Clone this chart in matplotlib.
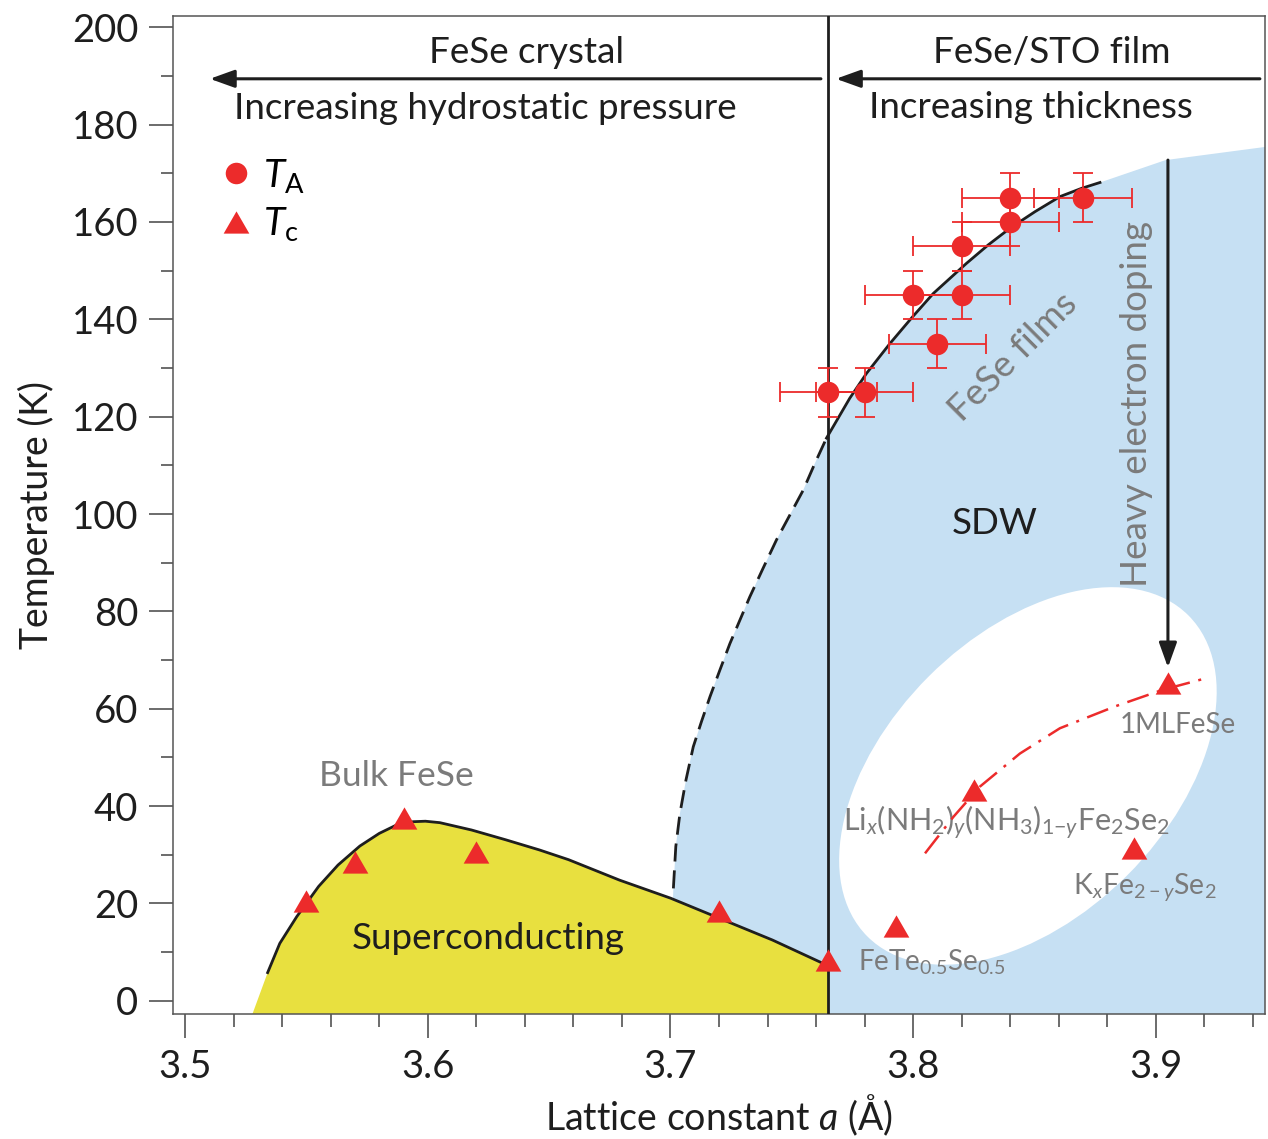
import numpy as np
import matplotlib
matplotlib.use("Agg")
import matplotlib.pyplot as plt
import matplotlib.patches as mpatches
from matplotlib.lines import Line2D
from matplotlib.transforms import ScaledTranslation

plt.rcParams['font.family'] = ['Lato', 'DejaVu Sans']
plt.rcParams['mathtext.fontset'] = 'custom'
plt.rcParams['mathtext.rm'] = 'Lato'
plt.rcParams['mathtext.it'] = 'Lato:italic'
plt.rcParams['mathtext.bf'] = 'Lato:bold'

RED = '#ec2b2b'
BLUE = '#c6e0f3'
YELLOW = '#e8e03f'
GRAY = '#7b7b7b'
BLACK = '#1e1e1e'

# T_A (FeSe/STO films) z niepewnościami
ta_x = [3.765, 3.78, 3.81, 3.80, 3.82, 3.82, 3.84, 3.84, 3.87]
ta_y = [125, 125, 135, 145, 145, 155, 160, 165, 165]
ta_xerr = 0.02
ta_yerr = 5

# T_c
tc_x = [3.55, 3.57, 3.59, 3.62, 3.72, 3.765, 3.793, 3.825, 3.891, 3.905]
tc_y = [20.5, 28.5, 37.5, 30.5, 18.5, 8.4, 15.4, 43.3, 31.3, 65.2]

# kopuła nadprzewodnictwa
dome_x = [3.534, 3.539, 3.546, 3.555, 3.563, 3.572, 3.580, 3.587, 3.594, 3.599, 3.605,
          3.618, 3.632, 3.646, 3.658, 3.679, 3.700, 3.720, 3.742, 3.765]
dome_y = [5.8, 11.8, 17.3, 23.5, 27.9, 31.8, 34.4, 36.1, 36.8, 36.9, 36.6,
          35.1, 33.1, 31.0, 29.0, 24.8, 21.1, 17.0, 12.5, 7.2]
dome_foot_x = 3.527

# granica obszaru SDW: część przerywana (do a = 3.765) i ciągła
sdw_dash_x = [3.7012, 3.7022, 3.7039, 3.7064, 3.7094, 3.7128, 3.7163, 3.7204, 3.7245,
              3.7286, 3.7327, 3.7382, 3.7437, 3.7492, 3.7547, 3.7595, 3.7643]
sdw_dash_y = [23.1, 31.7, 38.5, 45.4, 52.2, 57.4, 62.5, 68.0, 73.4,
              78.2, 83.0, 88.9, 94.7, 99.8, 104.9, 110.4, 115.6]
sdw_solid_x = [3.7643, 3.7739, 3.7808, 3.7904, 3.7994, 3.8083, 3.8220, 3.8310,
               3.8399, 3.8502, 3.8605, 3.8694, 3.877]
sdw_solid_y = [115.6, 123.8, 128.9, 135.0, 140.3, 145.3, 151.5, 155.3,
               158.7, 162.1, 165.2, 166.9, 168.1]
sdw_top_x = [3.904, 3.945]
sdw_top_y = [172.7, 175.4]
sdw_foot_x = 3.699

# krzywa przez punkty Li_x(NH2)... i 1ML FeSe
ml_x = [3.8049, 3.8166, 3.8275, 3.844, 3.8605, 3.8833, 3.9029, 3.9209]
ml_y = [30.3, 37.8, 44.0, 50.8, 56.0, 60.5, 63.9, 66.3]

a_split = 3.765
xmin, xmax = 3.495, 3.945
ymin, ymax = -2.7, 202.3

fig = plt.figure(figsize=(12.68, 11.39), dpi=100)
ax = fig.add_axes([173 / 1268, 125 / 1139, 1092 / 1268, 998 / 1139])
ax.set_xlim(xmin, xmax)
ax.set_ylim(ymin, ymax)

# obszar SDW
ax.fill([sdw_foot_x] + sdw_dash_x + sdw_solid_x[1:] + sdw_top_x + [xmax + 0.01],
        [ymin - 1] + sdw_dash_y + sdw_solid_y[1:] + sdw_top_y + [ymin - 1],
        color=BLUE, lw=0, zorder=1)

# biała elipsa (wymiary w calach, środek w danych)
ell = mpatches.Ellipse((0, 0), 4.54, 2.81, angle=45,
                       transform=fig.dpi_scale_trans + ScaledTranslation(3.8473, 46.2, ax.transData),
                       fc='white', ec='none', zorder=1.5)
ax.add_patch(ell)

# nadprzewodnictwo
ax.fill([dome_foot_x] + dome_x + [a_split], [ymin - 1] + dome_y + [ymin - 1],
        color=YELLOW, lw=0, zorder=2)
ax.plot(dome_x, dome_y, color=BLACK, lw=2, zorder=4, solid_joinstyle='round')

ax.plot(sdw_dash_x, sdw_dash_y, color=BLACK, lw=2, ls=(0, (6.5, 3.2)), zorder=4)
ax.plot(sdw_solid_x, sdw_solid_y, color=BLACK, lw=2, zorder=4, solid_joinstyle='round')

ax.axvline(a_split, color=BLACK, lw=2, zorder=4)

ax.plot(ml_x, ml_y, color=RED, lw=1.8, ls=(0, (9, 3.5, 1.2, 3.5)), zorder=4)

ax.errorbar(ta_x, ta_y, xerr=ta_xerr, yerr=ta_yerr, fmt='o', ms=15.5, color=RED,
            ecolor=RED, elinewidth=1.3, capsize=7, capthick=1.3, mec='none', zorder=5)

tri = [(-1, -0.866), (1, -0.866), (0, 0.866)]
ax.plot(tc_x, tc_y, ls='none', marker=tri, ms=18.5, color=RED, mec='none', zorder=6)

# strzałki
arrow_kw = dict(arrowstyle='-|>,head_length=0.5,head_width=0.18', color=BLACK,
                lw=2.2, shrinkA=0, shrinkB=0, mutation_scale=30)
ax.annotate('', xy=(3.5102, 189.4), xytext=(3.762, 189.4), arrowprops=arrow_kw, zorder=7)
ax.annotate('', xy=(3.7682, 189.4), xytext=(3.9429, 189.4), arrowprops=arrow_kw, zorder=7)
ax.annotate('', xy=(3.905, 68.5), xytext=(3.905, 172.7), arrowprops=arrow_kw, zorder=7)

fs = 26.5
ax.text(3.6409, 194.9, 'FeSe crystal', ha='center', va='center', fontsize=fs, color=BLACK)
ax.text(3.6236, 183.4, 'Increasing hydrostatic pressure', ha='center', va='center',
        fontsize=fs, color=BLACK)
ax.text(3.8572, 194.9, 'FeSe/STO film', ha='center', va='center', fontsize=fs, color=BLACK)
ax.text(3.8485, 183.6, 'Increasing thickness', ha='center', va='center', fontsize=fs, color=BLACK)
ax.text(3.8337, 98.0, 'SDW', ha='center', va='center', fontsize=fs, color=BLACK)
ax.text(3.6248, 12.9, 'Superconducting', ha='center', va='center', fontsize=fs, color=BLACK)
ax.text(3.5869, 46.2, 'Bulk FeSe', ha='center', va='center', fontsize=25.5, color=GRAY)
ax.text(3.8411, 132.3, 'FeSe films', ha='center', va='center', fontsize=fs, color=GRAY,
        rotation=45, rotation_mode='anchor')
ax.text(3.8922, 122.6, 'Heavy electron doping', ha='center', va='center', fontsize=fs,
        color=GRAY, rotation=90)
ax.text(3.8852, 56.7, '1MLFeSe', ha='left', va='center', fontsize=20, color=GRAY)
ax.text(3.771, 36.5, r'Li$_{x}$(NH$_2$)$_{y}$(NH$_3$)$_{1\mathrm{-}y}$Fe$_2$Se$_2$',
        ha='left', va='center', fontsize=22, color=GRAY)
ax.text(3.8658, 23.4, r'K$_{x}$Fe$_{2-y}$Se$_2$', ha='left', va='center',
        fontsize=20.5, color=GRAY)
ax.text(3.7772, 8.0, r'FeTe$_{0.5}$Se$_{0.5}$', ha='left', va='center',
        fontsize=20, color=GRAY)

# legenda
handles = [Line2D([], [], ls='none', marker='o', ms=15.5, color=RED, mec='none'),
           Line2D([], [], ls='none', marker=tri, ms=18.5, color=RED, mec='none')]
ax.legend(handles, [r'$T_\mathrm{A}$', r'$T_\mathrm{c}$'], loc='upper left',
          bbox_to_anchor=(0.0397, 0.859), frameon=False, fontsize=28,
          handlelength=1.0, handletextpad=0.2, labelspacing=0.27, borderpad=0,
          borderaxespad=0)

ax.set_xticks(np.arange(3.5, 3.91, 0.1))
ax.set_xticks(np.arange(3.5, 3.945, 0.02), minor=True)
ax.set_xticklabels(['%.1f' % v for v in np.arange(3.5, 3.91, 0.1)])
ax.set_yticks(np.arange(0, 201, 20))
ax.set_yticks(np.arange(0, 201, 10), minor=True)

ax.tick_params(which='both', direction='out', color='#444444', width=1.1,
               labelsize=27.5, labelcolor=BLACK)
ax.tick_params(which='major', length=17, pad=8)
ax.tick_params(which='minor', length=9)
for s in ax.spines.values():
    s.set_color('#555555')
    s.set_linewidth(1.1)

ax.set_xlabel(r'Lattice constant $a$ (Å)', fontsize=27, color=BLACK, labelpad=6)
ax.set_ylabel('Temperature (K)', fontsize=27, color=BLACK, labelpad=12)

fig.savefig('out.png', dpi=100)
